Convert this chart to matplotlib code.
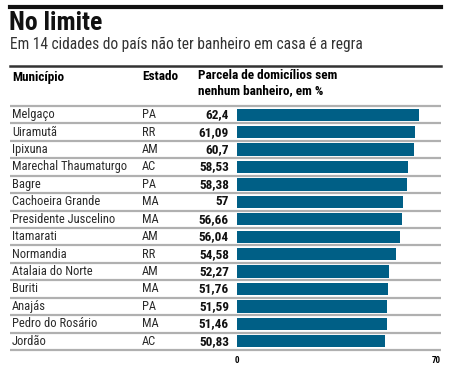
import matplotlib.pyplot as plt
from matplotlib.transforms import blended_transform_factory

# data
municipios = ['Melgaço', 'Uiramutã', 'Ipixuna', 'Marechal Thaumaturgo', 'Bagre',
              'Cachoeira Grande', 'Presidente Juscelino', 'Itamarati', 'Normandia',
              'Atalaia do Norte', 'Buriti', 'Anajás', 'Pedro do Rosário', 'Jordão']
estados = ['PA', 'RR', 'AM', 'AC', 'PA', 'MA', 'MA', 'AM', 'RR', 'AM', 'MA', 'PA', 'MA', 'AC']
valores = [62.4, 61.09, 60.7, 58.53, 58.38, 57, 56.66, 56.04, 54.58, 52.27, 51.76, 51.59, 51.46, 50.83]
rotulos = ['62,4', '61,09', '60,7', '58,53', '58,38', '57', '56,66', '56,04', '54,58',
           '52,27', '51,76', '51,59', '51,46', '50,83']

plt.rcParams['font.family'] = ['Roboto Condensed', 'Fira Sans Condensed', 'Archivo Narrow', 'DejaVu Sans']

W, H = 452, 365
fig = plt.figure(figsize=(W/100, H/100), dpi=100)
fig.patch.set_facecolor('white')

def fx(px):
    return px / W

def fy(py):
    return 1 - py / H

# bar axes: x from 0 to 70, rows between y=106 and y=350 px
ax = fig.add_axes([fx(237), fy(350), fx(441) - fx(237), fy(106) - fy(350)])
n = len(valores)
ax.set_xlim(0, 70)
ax.set_ylim(n, 0)
ax.axis('off')

pos = [i + 0.5 for i in range(n)]
ax.barh(pos, valores, height=0.7, color='#005f86', left=0)

tr = blended_transform_factory(fig.transFigure, ax.transData)
for i in range(n):
    ax.text(fx(12), pos[i], municipios[i], transform=tr, va='center', ha='left',
            fontsize=9, color='#2a2a2a')
    ax.text(fx(142), pos[i], estados[i], transform=tr, va='center', ha='left',
            fontsize=9, color='#2a2a2a')
    ax.text(fx(229), pos[i], rotulos[i], transform=tr, va='center', ha='right',
            fontsize=9.5, fontweight='bold', color='#111111')

# row separators
for i in range(n + 1):
    ax.plot([fx(10), fx(441)], [i, i], transform=tr, color='#b0b0b0', lw=1.6,
            clip_on=False, solid_capstyle='butt')

# ticks
ax.text(0, n + 0.35, '0', ha='center', va='top', fontsize=6.5, fontweight='bold')
ax.text(70, n + 0.35, '70', ha='right', va='top', fontsize=6.5, fontweight='bold')

# header rules and texts
fig.add_artist(plt.Line2D([fx(10), fx(441)], [fy(7), fy(7)], color='#111111', lw=3))
fig.add_artist(plt.Line2D([fx(10), fx(441)], [fy(66), fy(66)], color='#333333', lw=1.8))
fig.text(fx(9), fy(23), 'No limite', fontsize=18.5, fontweight='black', va='center', ha='left',
         color='#111111')
fig.text(fx(10), fy(44), 'Em 14 cidades do país não ter banheiro em casa é a regra',
         fontsize=11.2, va='center', ha='left', color='#333333')
fig.text(fx(12), fy(77), 'Município', fontsize=9.5, fontweight='bold', va='center', ha='left')
fig.text(fx(142), fy(77), 'Estado', fontsize=9.5, fontweight='bold', va='center', ha='left')
fig.text(fx(198), fy(83), 'Parcela de domicílios sem\nnenhum banheiro, em %', fontsize=9.5,
         fontweight='bold', va='center', ha='left', linespacing=1.15)

fig.savefig('out.png', dpi=100)
